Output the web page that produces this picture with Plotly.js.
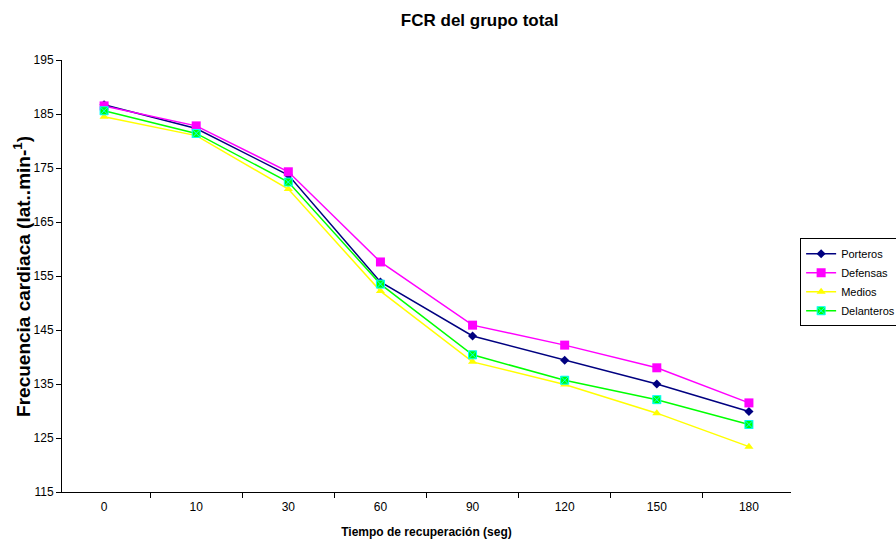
<!DOCTYPE html>
<html>
<head>
<meta charset="utf-8">
<script src="https://cdn.plot.ly/plotly-3.0.1.min.js"></script>
<style>html,body{margin:0;padding:0;background:#fff;}#chart{width:896px;height:539px;}</style>
</head>
<body>
<div id="chart"></div>
<script>
const categories = ["0", "10", "30", "60", "90", "120", "150", "180"];
const porteros   = [186.7, 182.3, 173.7, 153.9, 143.9, 139.4, 135.0, 129.9];
const defensas   = [186.5, 182.8, 174.3, 157.6, 145.9, 142.2, 138.0, 131.5];
const medios     = [184.5, 181.0, 171.1, 152.2, 139.1, 134.9, 129.6, 123.4];
const delanteros = [185.6, 181.4, 172.4, 153.5, 140.4, 135.7, 132.1, 127.5];
const yTicks = [115, 125, 135, 145, 155, 165, 175, 185, 195];

const traces = [
  {name: "Porteros", x: categories, y: porteros, type: "scatter", mode: "lines+markers",
   line: {color: "#000080", width: 1.5}, marker: {symbol: "diamond", size: 7, color: "#000080"}},
  {name: "Defensas", x: categories, y: defensas, type: "scatter", mode: "lines+markers",
   line: {color: "#FF00FF", width: 1.5}, marker: {symbol: "square", size: 9, color: "#FF00FF"}},
  {name: "Medios", x: categories, y: medios, type: "scatter", mode: "lines+markers",
   line: {color: "#FFFF00", width: 1.5}, marker: {symbol: "triangle-up", size: 8, color: "#FFFF00"}},
  {name: "Delanteros", x: categories, y: delanteros, type: "scatter", mode: "lines+markers",
   line: {color: "#00FF00", width: 1.5}, marker: {symbol: "square-x", size: 8, color: "#00FF00", line: {color: "#00FFFF", width: 1}}}
];

const layout = {
  width: 896, height: 539,
  margin: {l: 62, r: 105, t: 60, b: 47, autoexpand: false},
  paper_bgcolor: "#fff", plot_bgcolor: "#fff",
  font: {family: "Arial, 'Liberation Sans', sans-serif", color: "#000", size: 11},
  title: {text: "<b>FCR del grupo total</b>", font: {size: 17, color: "#000"},
          xref: "paper", x: 0.573, xanchor: "center", yref: "container", y: 0.963, yanchor: "middle"},
  xaxis: {type: "category", tickson: "boundaries", ticks: "outside", ticklen: 5, tickcolor: "#000",
          showline: true, linecolor: "#000", linewidth: 1, showgrid: false, zeroline: false,
          tickfont: {size: 12}, ticklabelstandoff: 4, automargin: false,
          title: {text: "<b>Tiempo de recuperación (seg)</b>", font: {size: 12}, standoff: 18}},
  yaxis: {range: [115, 195], tickvals: yTicks, ticktext: yTicks.map(String), ticks: "outside", ticklen: 5,
          tickcolor: "#000", showline: true, linecolor: "#000", linewidth: 1, showgrid: false, zeroline: false,
          tickfont: {size: 12}, automargin: false},
  annotations: [{text: "<b>Frecuencia cardiaca (lat..min-<sup>1</sup>)</b>", font: {size: 19, color: "#000"},
                 textangle: -90, xref: "paper", yref: "paper", x: -0.055, y: 0.5,
                 xanchor: "center", yanchor: "middle", showarrow: false}],
  showlegend: true,
  legend: {xref: "container", yref: "container", x: 0.893, xanchor: "left", y: 0.558, yanchor: "top",
           bordercolor: "#000", borderwidth: 1, bgcolor: "#fff", font: {size: 11}, itemwidth: 30, tracegroupgap: 0}
};

Plotly.newPlot("chart", traces, layout, {displayModeBar: false, staticPlot: true});
</script>
</body>
</html>
